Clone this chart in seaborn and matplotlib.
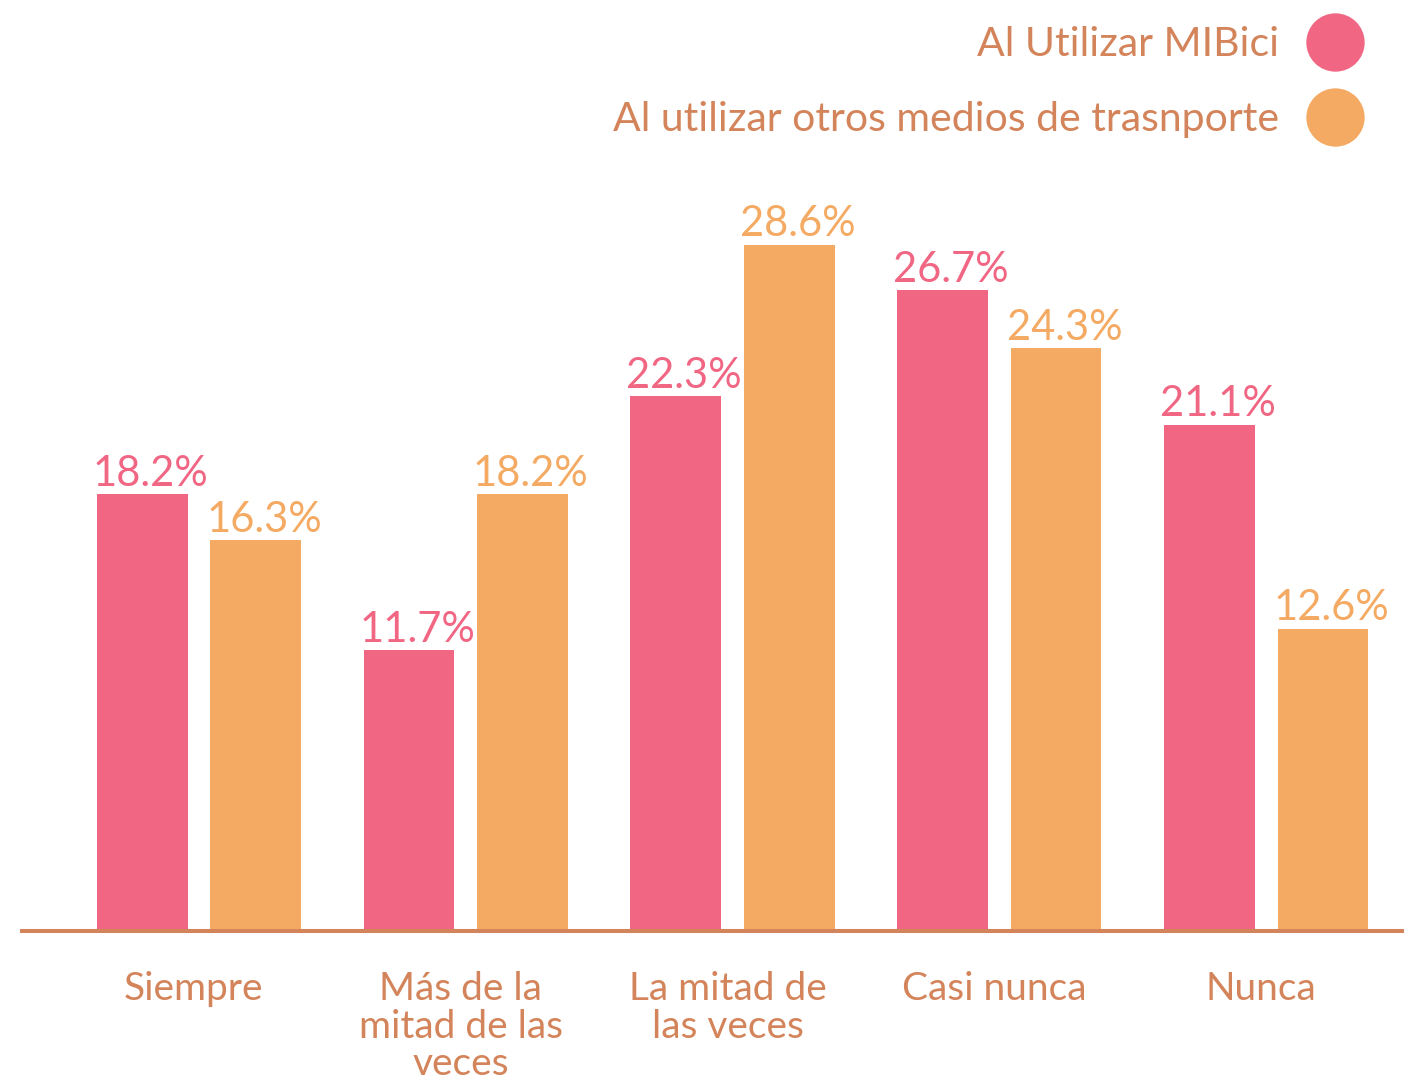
import pandas as pd
import seaborn as sns
import matplotlib.pyplot as plt
import matplotlib.transforms as mtransforms
from matplotlib.lines import Line2D

# Datos
categorias = ['Siempre', 'Más de la\nmitad de las\nveces', 'La mitad de\nlas veces', 'Casi nunca', 'Nunca']
series = ['Al Utilizar MIBici', 'Al utilizar otros medios de trasnporte']
mibici = [18.2, 11.7, 22.3, 26.7, 21.1]
otros = [16.3, 18.2, 28.6, 24.3, 12.6]

rosa = '#F06683'
naranja = '#F4AA63'
cafe = '#D4845A'

df = pd.DataFrame({
    'categoria': categorias * 2,
    'medio': [series[0]] * len(categorias) + [series[1]] * len(categorias),
    'pct': mibici + otros,
})

sns.set_style('white')
plt.rcParams['font.family'] = ['Lato', 'DejaVu Sans']

fig = plt.figure(figsize=(14.06, 10.8), dpi=100)
ax = fig.add_axes([22 / 1406, 149 / 1080, 1380 / 1406, 781 / 1080])

sns.barplot(data=df, x='categoria', y='pct', hue='medio', palette=[rosa, naranja],
            width=0.85, gap=0.2, saturation=1, linewidth=0, legend=False, ax=ax)

# Etiquetas de valor (un poco corridas a la derecha, como en el original)
for cont, col in zip(ax.containers, [rosa, naranja]):
    for t in ax.bar_label(cont, fmt='%.1f%%', color=col, fontsize=30, padding=1):
        t.xyann = (6, 1)

ax.set_xlim(-0.663, 4.509)
ax.set_ylim(0, 781 / 23.99)
ax.set_xlabel('')
ax.set_ylabel('')
ax.set_yticks([])
ax.tick_params(axis='x', length=0, pad=29, labelsize=28, labelcolor=cafe)
shift = mtransforms.ScaledTranslation(-5 / 100, 0, fig.dpi_scale_trans)
for lbl in ax.get_xticklabels():
    lbl.set_linespacing(1.05)
    lbl.set_multialignment('center')
    lbl.set_transform(lbl.get_transform() + shift)

sns.despine(ax=ax, left=True)
ax.spines['bottom'].set_color(cafe)
ax.spines['bottom'].set_linewidth(2.9)

# Leyenda
handles = [Line2D([], [], marker='o', linestyle='', markersize=41, color=c) for c in [rosa, naranja]]
leg = fig.legend(handles, series, loc='upper right', bbox_to_anchor=(1386 / 1406, 1 - 6 / 1080),
                 frameon=False, markerfirst=False, fontsize=29.5, handlelength=1.5,
                 handletextpad=0.6, labelspacing=0.92, borderpad=0)
for t in leg.get_texts():
    t.set_color(cafe)

plt.savefig('out.png', dpi=100)
